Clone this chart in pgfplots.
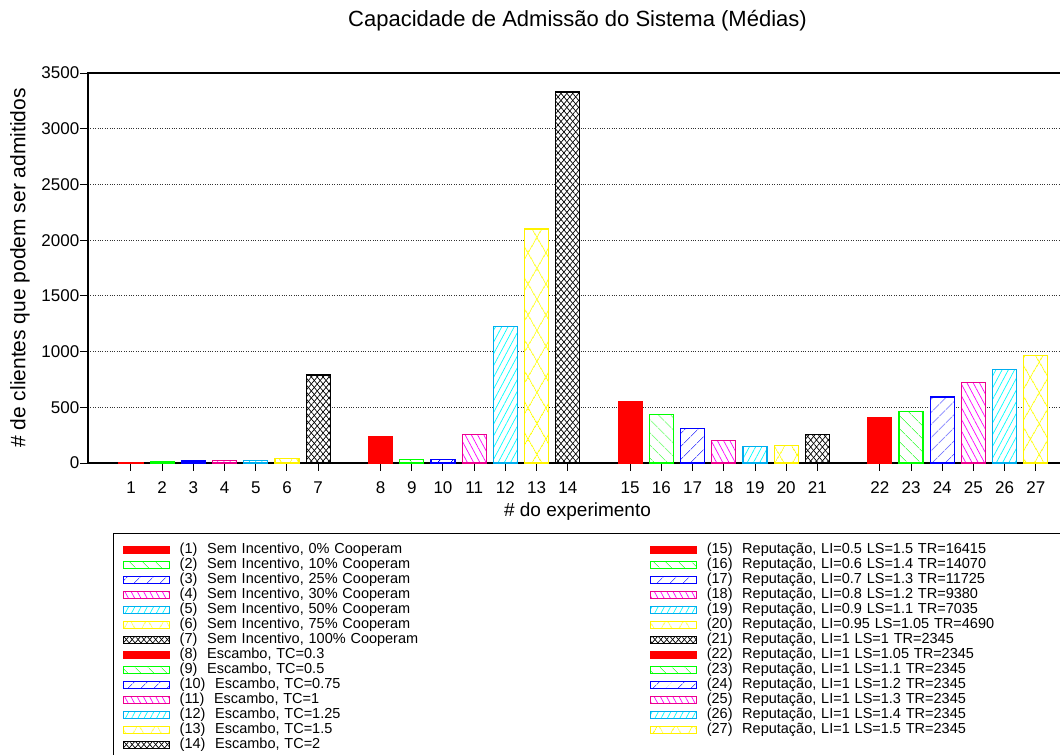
\documentclass[border=0pt]{standalone}
\usepackage{pgfplots}
\pgfplotsset{compat=1.18}
\usetikzlibrary{patterns.meta}
\usepackage{fontspec}
\setmainfont{Liberation Sans}
\newcommand{\fs}{\fontsize{14.5bp}{17bp}\selectfont}
\newcommand{\ft}{\fontsize{17bp}{20bp}\selectfont}
\newcommand{\fti}{\fontsize{22bp}{26bp}\selectfont}
\newcommand{\fy}{\fontsize{21bp}{25bp}\selectfont}
\newcommand{\fx}{\fontsize{19bp}{23bp}\selectfont}
\pgfplotsset{
  lg/.style={line width=1.1bp, legend image code/.code={\draw[##1] (0bp,-3.5bp) rectangle (46bp,3.5bp);}},
  s1/.style={lg, fill=red, draw=red},
  s2/.style={lg, draw=green, fill=white, postaction={pattern={Lines[angle=-45,distance=10bp,line width=0.7bp]}, pattern color=green}},
  s3/.style={lg, draw=blue, fill=white, postaction={pattern={Lines[angle=45,distance=10bp,line width=0.7bp]}, pattern color=blue}},
  s4/.style={lg, draw=magenta, fill=white, postaction={pattern={Lines[angle=-62,distance=5.5bp,line width=0.7bp]}, pattern color=magenta}},
  s5/.style={lg, draw=cyan, fill=white, postaction={pattern={Lines[angle=62,distance=5.5bp,line width=0.7bp]}, pattern color=cyan}},
  s6/.style={lg, draw=yellow, fill=white, postaction={pattern={Lines[angle=60,distance=15bp,line width=0.8bp]}, pattern color=yellow}, postaction={pattern={Lines[angle=-60,distance=15bp,line width=0.8bp]}, pattern color=yellow}},
  s7/.style={lg, draw=black, fill=white, postaction={pattern={Lines[angle=50,distance=4.5bp,line width=0.7bp]}, pattern color=black}, postaction={pattern={Lines[angle=-50,distance=4.5bp,line width=0.7bp]}, pattern color=black}},
}
\begin{document}
\begin{tikzpicture}
\begin{axis}[
  at={(88bp,-463bp)}, anchor=south west,
  scale only axis, width=979bp, height=390bp,
  xmin=-0.378, xmax=31, ymin=0, ymax=3500,
  ybar, bar width=24bp, bar shift=0pt,
  xtick={1,2,3,4,5,6,7,9,10,11,12,13,14,15,17,18,19,20,21,22,23,25,26,27,28,29,30},
  xticklabels={1,2,3,4,5,6,7,8,9,10,11,12,13,14,15,16,17,18,19,20,21,22,23,24,25,26,27},
  ytick={0,500,1000,1500,2000,2500,3000,3500},
  scaled y ticks=false,
  /pgf/number format/1000 sep={},
  /pgf/number format/assume math mode=true,
  tick pos=left, tick align=outside, major tick length=7.5bp,
  tick style={black, line width=1bp},
  axis line style={line width=1.3bp},
  ymajorgrids, grid style={dotted, line width=0.8bp, black!80},
  tick label style={font=\ft},
  xticklabel style={inner sep=0pt, yshift=-11bp},
  yticklabel style={inner sep=0pt, xshift=-1bp},
  title={Capacidade de Admissão do Sistema (Médias)},
  title style={at={(axis description cs:0.5,1)}, anchor=center, yshift=46bp, font=\fti},
  xlabel={\# do experimento},
  ylabel={\# de clientes que podem ser admitidos},
  every axis x label/.style={at={(axis description cs:0.5,-0.1256)}, anchor=center, font=\fx},
  every axis y label/.style={at={(axis description cs:-0.0695,0.5)}, anchor=center, rotate=90, font=\fy},
  legend columns=2, legend cell align=left,
  legend style={at={(axis description cs:0.02554,-0.1795)}, anchor=north west,
    draw=black, line width=1.2bp, fill=white, font=\fs,
    inner xsep=9bp, inner ysep=8.5bp, column sep=10bp, row sep=0pt,
    nodes={inner sep=0pt, text height=11.5bp, text depth=3.5bp, text width=460bp, align=left}},
]
\addplot[s1] coordinates {(1,6)};
\addlegendentry{(1)\ \ Sem Incentivo, 0\% Cooperam}
\addplot[s1] coordinates {(17,556)};
\addlegendentry{(15)\ \ Reputação, LI=0.5 LS=1.5 TR=16415}
\addplot[s2] coordinates {(2,12)};
\addlegendentry{(2)\ \ Sem Incentivo, 10\% Cooperam}
\addplot[s2] coordinates {(18,437)};
\addlegendentry{(16)\ \ Reputação, LI=0.6 LS=1.4 TR=14070}
\addplot[s3] coordinates {(3,18)};
\addlegendentry{(3)\ \ Sem Incentivo, 25\% Cooperam}
\addplot[s3] coordinates {(19,309)};
\addlegendentry{(17)\ \ Reputação, LI=0.7 LS=1.3 TR=11725}
\addplot[s4] coordinates {(4,22)};
\addlegendentry{(4)\ \ Sem Incentivo, 30\% Cooperam}
\addplot[s4] coordinates {(20,204)};
\addlegendentry{(18)\ \ Reputação, LI=0.8 LS=1.2 TR=9380}
\addplot[s5] coordinates {(5,22)};
\addlegendentry{(5)\ \ Sem Incentivo, 50\% Cooperam}
\addplot[s5] coordinates {(21,150)};
\addlegendentry{(19)\ \ Reputação, LI=0.9 LS=1.1 TR=7035}
\addplot[s6] coordinates {(6,40)};
\addlegendentry{(6)\ \ Sem Incentivo, 75\% Cooperam}
\addplot[s6] coordinates {(22,156)};
\addlegendentry{(20)\ \ Reputação, LI=0.95 LS=1.05 TR=4690}
\addplot[s7] coordinates {(7,790)};
\addlegendentry{(7)\ \ Sem Incentivo, 100\% Cooperam}
\addplot[s7] coordinates {(23,255)};
\addlegendentry{(21)\ \ Reputação, LI=1 LS=1 TR=2345}
\addplot[s1] coordinates {(9,240)};
\addlegendentry{(8)\ \ Escambo, TC=0.3}
\addplot[s1] coordinates {(25,410)};
\addlegendentry{(22)\ \ Reputação, LI=1 LS=1.05 TR=2345}
\addplot[s2] coordinates {(10,30)};
\addlegendentry{(9)\ \ Escambo, TC=0.5}
\addplot[s2] coordinates {(26,464)};
\addlegendentry{(23)\ \ Reputação, LI=1 LS=1.1 TR=2345}
\addplot[s3] coordinates {(11,32)};
\addlegendentry{(10)\ \ Escambo, TC=0.75}
\addplot[s3] coordinates {(27,592)};
\addlegendentry{(24)\ \ Reputação, LI=1 LS=1.2 TR=2345}
\addplot[s4] coordinates {(12,258)};
\addlegendentry{(11)\ \ Escambo, TC=1}
\addplot[s4] coordinates {(28,722)};
\addlegendentry{(25)\ \ Reputação, LI=1 LS=1.3 TR=2345}
\addplot[s5] coordinates {(13,1229)};
\addlegendentry{(12)\ \ Escambo, TC=1.25}
\addplot[s5] coordinates {(29,841)};
\addlegendentry{(26)\ \ Reputação, LI=1 LS=1.4 TR=2345}
\addplot[s6] coordinates {(14,2100)};
\addlegendentry{(13)\ \ Escambo, TC=1.5}
\addplot[s6] coordinates {(30,964)};
\addlegendentry{(27)\ \ Reputação, LI=1 LS=1.5 TR=2345}
\addplot[s7] coordinates {(15,3330)};
\addlegendentry{(14)\ \ Escambo, TC=2}
\end{axis}
\pgfresetboundingbox
\path[use as bounding box] (0bp,0bp) rectangle (1060bp,-755bp);
\end{tikzpicture}
\end{document}
